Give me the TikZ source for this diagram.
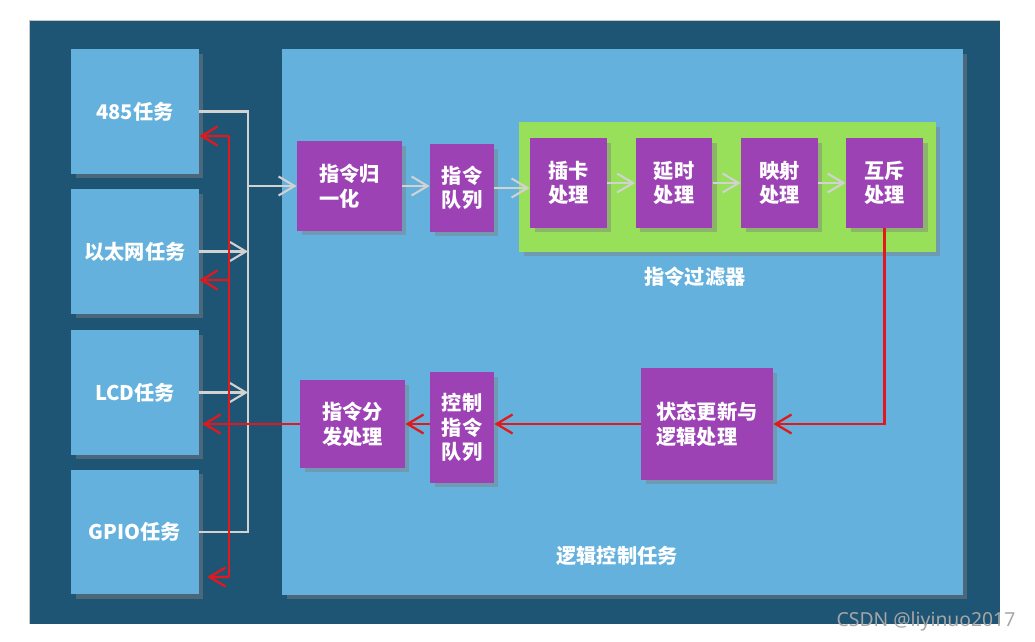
\documentclass[tikz,border=0pt]{standalone}
\usepackage{fontspec}
\setmainfont{Noto Sans CJK SC}
\newfontfamily\marksans{Noto Sans}
\usetikzlibrary{arrows.meta, positioning, shadows}
\definecolor{darkPanel}{RGB}{31,85,116}
\definecolor{taskBlue}{RGB}{99,177,220}
\definecolor{stepPurple}{RGB}{156,66,180}
\definecolor{filterGreen}{RGB}{153,224,90}
\definecolor{flowGray}{RGB}{210,210,210}
\definecolor{backRed}{RGB}{226,24,28}
\tikzset{
    softshadow/.style={drop shadow={opacity=0.45, shadow xshift=0.09cm, shadow yshift=-0.09cm}},
    boxtext/.style={text=white, font=\fontsize{11.5}{14}\selectfont\bfseries},
    taskbox/.style={boxtext, fill=taskBlue, softshadow, inner sep=0pt,
        minimum width=2.56cm, minimum height=2.5cm},
    stepbox/.style={boxtext, fill=stepPurple, softshadow, inner sep=0pt, align=left},
    filterbox/.style={fill=filterGreen, softshadow, inner sep=0pt,
        minimum width=8.34cm, minimum height=2.6cm},
    areatext/.style={boxtext},
    grayline/.style={draw=flowGray, line width=1.2pt},
    grayflow/.style={grayline, -{Straight Barb[length=3.2mm, width=3.8mm]}},
    redline/.style={draw=backRed, line width=1.3pt},
    redflow/.style={redline, -{Straight Barb[length=3.2mm, width=3.8mm]}}
}

\begin{document}
\begin{tikzpicture}[x=0.02cm, y=-0.02cm]
    \useasboundingbox (0,0) rectangle (1035,642);

    % background and the logic task panel
    \fill[darkPanel] (29,20) rectangle (1000,624);
    \draw[gray!45] (29,624) -- (29,20) -- (1000,20);
    \node[fill=taskBlue, softshadow, inner sep=0pt, minimum width=13.62cm, minimum height=10.92cm] (panel) at (622.5,322) {};

    % tasks on the left
    \node[taskbox] (t485) at (135,111.5) {485任务};
    \node[taskbox] (teth) at (135,251.5) {以太网任务};
    \node[taskbox] (tlcd) at (135,392.5) {LCD任务};
    \node[taskbox] (tgpio) at (135,532) {GPIO任务};

    % command filter
    \node[filterbox] (filter) at (727.5,187) {};
    \node[areatext] (filtername) at (695,277) {指令过滤器};

    \node[stepbox, minimum width=2.1cm, minimum height=1.8cm] (norm) at (349.5,186) {指令归\\一化};
    \node[stepbox, minimum width=1.28cm, minimum height=1.76cm] (queue) at (462,188) {指令\\队列};
    \node[stepbox, minimum width=1.54cm, minimum height=1.8cm] (card) at (568.5,183) {插卡\\处理};
    \node[stepbox, minimum width=1.54cm, minimum height=1.8cm] (delay) at (674,183) {延时\\处理};
    \node[stepbox, minimum width=1.54cm, minimum height=1.8cm] (mapping) at (779.5,183) {映射\\处理};
    \node[stepbox, minimum width=1.54cm, minimum height=1.8cm] (mutex) at (884.5,183) {互斥\\处理};

    % state update and output
    \node[stepbox, minimum width=2.64cm, minimum height=2.24cm] (state) at (707,424) {状态更新与\\逻辑处理};
    \node[stepbox, minimum width=1.28cm, minimum height=2.22cm] (ctlqueue) at (462,427.5) {控制\\指令\\队列};
    \node[stepbox, minimum width=2.1cm, minimum height=1.76cm] (dispatch) at (352.5,424) {指令分\\发处理};

    \node[areatext] (panelname) at (617,556) {逻辑控制任务};

    % gray input lines
    \coordinate (bus) at (248,0);
    \draw[grayline] (t485.east) -- (t485.east -| bus) -- (tgpio.east -| bus) -- (tgpio.east);
    \draw[grayflow] (teth.east) -- (teth.east -| bus);
    \draw[grayflow] (tlcd.east) -- (tlcd.east -| bus);
    \draw[grayflow] (norm.west -| bus) -- (norm.west);
    \draw[grayflow] (norm.east) -- (queue.west |- norm.east);
    \draw[grayflow] (queue.east) -- (card.west |- queue.east);
    \draw[grayflow] (card.east) -- (delay.west);
    \draw[grayflow] (delay.east) -- (mapping.west);
    \draw[grayflow] (mapping.east) -- (mutex.west);

    % red output lines
    \draw[redflow] (mutex.south) |- (state.east);
    \draw[redflow] (state.west) -- (ctlqueue.east |- state.west);
    \draw[redflow] (ctlqueue.west |- state.west) -- (dispatch.east);
    \draw[redflow] (dispatch.west) -- ([xshift=0.06cm]tlcd.east |- dispatch.west);

    \coordinate (rtop) at (229,136);
    \coordinate (rbot) at (229,577);
    \draw[redline] (rtop) -- (rbot);
    \draw[redflow] (rtop) -- ([yshift=-0.49cm]t485.east);
    \draw[redflow] (rtop |- 0,280) -- ([yshift=-0.57cm]teth.east);
    \draw[redflow] (rbot) -- ([xshift=0.16cm, yshift=-0.9cm]tgpio.east);

    % watermark
    \node[text=gray!70, font=\marksans\fontsize{11}{13}\selectfont] (mark) at (926,621) {CSDN @liyinuo2017};
\end{tikzpicture}
\end{document}
